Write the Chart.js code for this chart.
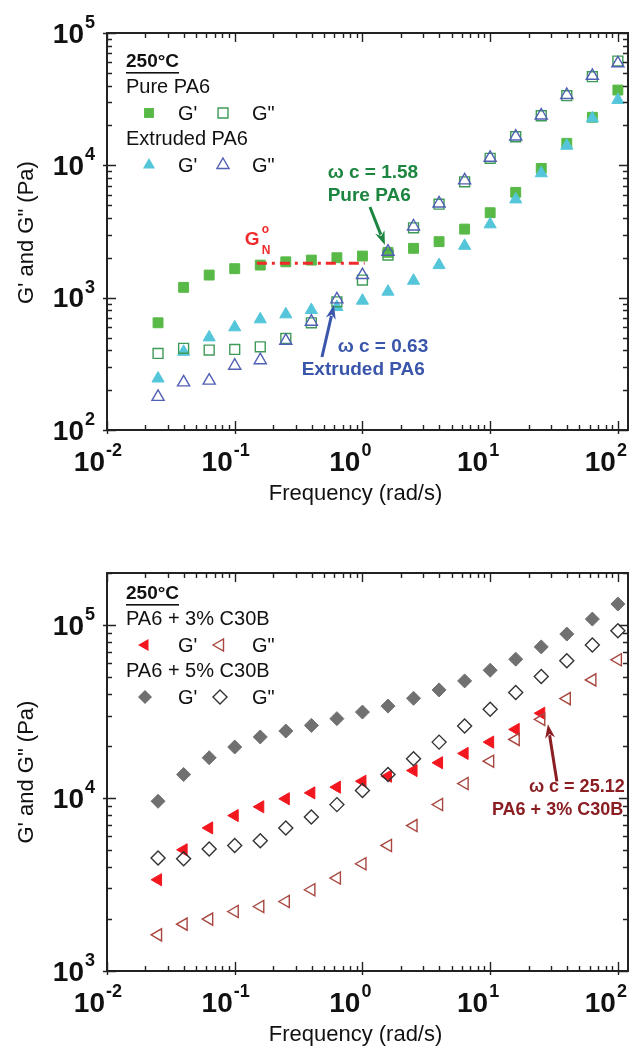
<!DOCTYPE html>
<html>
<head>
<meta charset="utf-8">
<script src="https://cdn.jsdelivr.net/npm/chart.js@4.4.1/dist/chart.umd.min.js"></script>
<style>
  html, body { margin: 0; padding: 0; background: #ffffff; }
  #wrap { position: relative; width: 640px; height: 1049px; overflow: hidden; }
  .panel { position: absolute; left: 0; width: 640px; }
  #top { top: 0; height: 520px; }
  #bottom { top: 520px; height: 529px; }
</style>
</head>
<body>
<div id="wrap">
  <div class="panel" id="top"><canvas id="cTop" width="640" height="520"></canvas></div>
  <div class="panel" id="bottom"><canvas id="cBottom" width="640" height="529"></canvas></div>
</div>
<script>
// Angular frequency (rad/s), five points per decade
const freq = [0.0251, 0.0398, 0.0631, 0.1, 0.1585, 0.2512, 0.3981, 0.631, 1, 1.585,
              2.512, 3.981, 6.31, 10, 15.85, 25.12, 39.81, 63.1, 100];

// Upper panel: neat PA6
const purePA6_Gp  = [646, 1197, 1482, 1656, 1763, 1866, 1923, 2003, 2063, 2200,
                     2360, 2650, 3297, 4385, 6250, 9480, 14660, 23060, 37060];
const purePA6_Gpp = [379, 414, 402, 406, 425, 492, 646, 931, 1358, 2100,
                     3370, 5090, 7510, 11300, 16440, 23700, 33600, 46800, 61400];
const extPA6_Gp   = [245, 390, 501, 597, 686, 748, 806, 850, 949, 1110,
                     1343, 1763, 2466, 3580, 5530, 8710, 14060, 22650, 31200];
const extPA6_Gpp  = [178, 229, 236, 306, 337, 472, 658, 971, 1482, 2225,
                     3450, 5150, 7700, 11400, 16500, 23800, 34000, 47500, 59000];

// Lower panel: PA6 / Cloisite 30B nanocomposites
const c30b3_Gp  = [3370, 5020, 6720, 7920, 8900, 9900, 10710, 11560, 12510, 13370,
                   14420, 16000, 18110, 21050, 24940, 30920];
const c30b3_Gpp = [1618, 1866, 1995, 2208, 2360, 2523, 2950, 3446, 4170, 5320,
                   6930, 9170, 12130, 16330, 21830, 28500, 37570, 48200, 63000];
const c30b5_Gp  = [9580, 13680, 17100, 19720, 22550, 24400, 26300, 28770, 31400, 34000,
                   37730, 42170, 47550, 54800, 63500, 74800, 88700, 108300, 132300];
const c30b5_Gpp = [4500, 4460, 5070, 5320, 5670, 6720, 7780, 9160, 11040, 13680,
                   16870, 21050, 26080, 32580, 40740, 50500, 62100, 76600, 92700];

// Plateau modulus level and its frequency span
const plateauGN = 1820;
const plateauSpan = [0.149, 1.04];

// Axis limits and decade labels
const xRange = [0.01, 120];
const yRangeTop = [100, 1e5];
const yRangeBottom = [1000, 2e5];
const xDecades = [-2, -1, 0, 1, 2];
const yDecadesTop = [2, 3, 4, 5];
const yDecadesBottom = [3, 4, 5];

const FONT = '"Liberation Sans", Arial, Helvetica, sans-serif';

function pts(xs, ys) { return ys.map((v, i) => ({ x: xs[i], y: v })); }

function series(label, data, style, fill, stroke, radius, rot, bw) {
  return {
    label, data: pts(freq, data), showLine: false,
    pointStyle: style, pointRadius: radius, pointHoverRadius: radius,
    pointRotation: rot || 0,
    backgroundColor: fill, borderColor: stroke, pointBorderWidth: bw
  };
}

// Marker drawing for the in-plot key (same geometry as Chart.js point styles)
function marker(ctx, style, cx, cy, r, fill, stroke, lw, rotDeg) {
  const rad = (rotDeg || 0) * Math.PI / 180;
  ctx.save();
  ctx.beginPath();
  if (style === 'rect') {
    const s = Math.SQRT1_2 * r;
    ctx.rect(cx - s, cy - s, 2 * s, 2 * s);
  } else if (style === 'rectRot') {
    ctx.moveTo(cx, cy - r); ctx.lineTo(cx + r, cy); ctx.lineTo(cx, cy + r); ctx.lineTo(cx - r, cy);
    ctx.closePath();
  } else if (style === 'triangle') {
    let a = rad;
    ctx.moveTo(cx + Math.sin(a) * r, cy - Math.cos(a) * r);
    a += 2 * Math.PI / 3;
    ctx.lineTo(cx + Math.sin(a) * r, cy - Math.cos(a) * r);
    a += 2 * Math.PI / 3;
    ctx.lineTo(cx + Math.sin(a) * r, cy - Math.cos(a) * r);
    ctx.closePath();
  }
  ctx.fillStyle = fill; ctx.fill();
  if (lw > 0) { ctx.lineWidth = lw; ctx.strokeStyle = stroke; ctx.stroke(); }
  ctx.restore();
}

function powLabel(ctx, exp, x, y, mode) {
  const base = '10', sup = String(exp).replace('-', '-');
  ctx.save();
  ctx.fillStyle = '#111';
  ctx.textBaseline = 'middle';
  ctx.font = 'bold 28px ' + FONT;
  const wb = ctx.measureText(base).width;
  ctx.font = 'bold 18px ' + FONT;
  const ws = ctx.measureText(sup).width;
  let bx;
  if (mode === 'y') bx = x - wb - ws;          // whole label ends at x
  else bx = x - wb - 2;                        // base ends at the tick
  ctx.font = 'bold 28px ' + FONT;
  ctx.textAlign = 'left';
  ctx.fillText(base, bx, y);
  ctx.font = 'bold 18px ' + FONT;
  ctx.fillText(sup, bx + wb + 1, y - 12);
  ctx.restore();
}

// Frame, inward log ticks, decade labels, axis titles, key and notes
function framePlugin(opts) {
  return {
    id: 'frame_' + opts.name,
    afterDatasetsDraw(chart) {
      const { ctx, chartArea: a, scales: { x, y } } = chart;
      ctx.save();
      ctx.strokeStyle = '#222';
      ctx.lineWidth = 2;
      ctx.strokeRect(a.left, a.top, a.right - a.left, a.bottom - a.top);

      ctx.lineWidth = 1.4;
      const inRange = (v, lo, hi) => v >= lo * 0.999 && v <= hi * 1.001;
      // x ticks
      for (let k = -3; k <= 3; k++) {
        for (let m = 1; m <= 9; m++) {
          const v = m * Math.pow(10, k);
          if (!inRange(v, x.min, x.max)) continue;
          const px = Math.round(x.getPixelForValue(v)) + 0.5;
          const major = m === 1, len = major ? 9 : 5;
          ctx.beginPath();
          ctx.moveTo(px, a.bottom + (major ? 4 : 0)); ctx.lineTo(px, a.bottom - len);
          ctx.moveTo(px, a.top); ctx.lineTo(px, a.top + len);
          ctx.stroke();
        }
      }
      // y ticks
      for (let k = 1; k <= 6; k++) {
        for (let m = 1; m <= 9; m++) {
          const v = m * Math.pow(10, k);
          if (!inRange(v, y.min, y.max)) continue;
          const py = Math.round(y.getPixelForValue(v)) + 0.5;
          const major = m === 1, len = major ? 9 : 5;
          ctx.beginPath();
          ctx.moveTo(a.left - (major ? 4 : 0), py); ctx.lineTo(a.left + len, py);
          ctx.moveTo(a.right, py); ctx.lineTo(a.right - len, py);
          ctx.stroke();
        }
      }
      ctx.restore();

      // decade labels
      xDecades.forEach(e => powLabel(ctx, e, x.getPixelForValue(Math.pow(10, e)), a.bottom + 33, 'x'));
      opts.yDecades.forEach(e => powLabel(ctx, e, a.left - 13, y.getPixelForValue(Math.pow(10, e)) + 2, 'y'));

      // axis titles
      ctx.save();
      ctx.fillStyle = '#111';
      ctx.font = '22px ' + FONT;
      ctx.textAlign = 'center';
      ctx.textBaseline = 'middle';
      ctx.fillText('Frequency (rad/s)', (a.left + a.right) / 2 - 12, a.bottom + 64);
      ctx.translate(27, (a.top + a.bottom) / 2 + opts.yTitleShift);
      ctx.rotate(-Math.PI / 2);
      ctx.fillText('G\' and G" (Pa)', 0, 0);
      ctx.restore();

      // key
      ctx.save();
      ctx.fillStyle = '#111';
      ctx.textBaseline = 'middle';
      ctx.textAlign = 'left';
      const k0x = a.left + 19, k0y = a.top + opts.keyTop;
      ctx.font = 'bold 19px ' + FONT;
      ctx.fillText('250\u00B0C', k0x, k0y);
      const tw = ctx.measureText('250\u00B0C').width;
      ctx.fillRect(k0x, k0y + 10, tw, 1.6);
      opts.groups.forEach((g, gi) => {
        const gy = k0y + 25 + gi * 52;
        ctx.font = '20px ' + FONT;
        ctx.fillStyle = '#111';
        ctx.fillText(g.name, k0x, gy);
        const ry = gy + 26;
        marker(ctx, g.m1.style, a.left + g.mx[0], ry, g.m1.r, g.m1.fill, g.m1.stroke, g.m1.bw, g.m1.rot);
        marker(ctx, g.m2.style, a.left + g.mx[1], ry, g.m2.r, g.m2.fill, g.m2.stroke, g.m2.bw, g.m2.rot);
        ctx.fillStyle = '#111';
        ctx.font = '20px ' + FONT;
        ctx.fillText('G\'', a.left + 71, ry + 1);
        ctx.fillText('G"', a.left + 145, ry + 1);
      });
      ctx.restore();

      // notes with arrows, anchored in data coordinates
      (opts.notes || []).forEach(n => {
        ctx.save();
        ctx.fillStyle = n.color;
        ctx.textBaseline = 'middle';
        ctx.textAlign = n.align;
        n.lines.forEach(l => {
          ctx.font = 'bold ' + l.size + 'px ' + FONT;
          ctx.fillText(l.text, x.getPixelForValue(l.x), y.getPixelForValue(l.y));
        });
        if (n.arrow) {
          const x1 = x.getPixelForValue(n.arrow.from[0]), y1 = y.getPixelForValue(n.arrow.from[1]);
          const x2 = x.getPixelForValue(n.arrow.to[0]), y2 = y.getPixelForValue(n.arrow.to[1]);
          const ang = Math.atan2(y2 - y1, x2 - x1);
          const hl = 14, hw = 5;
          ctx.strokeStyle = n.color;
          ctx.lineWidth = 3;
          ctx.beginPath();
          ctx.moveTo(x1, y1);
          ctx.lineTo(x2 - Math.cos(ang) * hl * 0.8, y2 - Math.sin(ang) * hl * 0.8);
          ctx.stroke();
          ctx.beginPath();
          ctx.moveTo(x2, y2);
          ctx.lineTo(x2 - Math.cos(ang) * hl - Math.sin(ang) * hw, y2 - Math.sin(ang) * hl + Math.cos(ang) * hw);
          ctx.lineTo(x2 - Math.cos(ang) * hl * 0.7, y2 - Math.sin(ang) * hl * 0.7);
          ctx.lineTo(x2 - Math.cos(ang) * hl + Math.sin(ang) * hw, y2 - Math.sin(ang) * hl - Math.cos(ang) * hw);
          ctx.closePath();
          ctx.fill();
        }
        ctx.restore();
      });

      // plateau modulus label
      if (opts.gn) {
        const gx = x.getPixelForValue(opts.gn.x), gy = y.getPixelForValue(opts.gn.y);
        ctx.save();
        ctx.fillStyle = '#f02a2a';
        ctx.textBaseline = 'middle';
        ctx.textAlign = 'left';
        ctx.font = 'bold 19px ' + FONT;
        ctx.fillText('G', gx, gy);
        ctx.font = 'bold 12px ' + FONT;
        ctx.fillText('o', gx + 17, gy - 10);
        ctx.fillText('N', gx + 17, gy + 11);
        ctx.restore();
      }
    }
  };
}

function baseOptions(yr, pad) {
  return {
    responsive: false,
    animation: false,
    events: [],
    layout: { padding: pad },
    plugins: { legend: { display: false }, tooltip: { enabled: false } },
    scales: {
      x: { type: 'logarithmic', min: xRange[0], max: xRange[1], display: false },
      y: { type: 'logarithmic', min: yr[0], max: yr[1], display: false }
    }
  };
}

// Colours
const cGreen = '#58b947', cGreenOpen = '#3f9a57', cCyan = '#55c6da', cBlue = '#5160b4';
const cRed = '#f2161f', cRedOpen = '#a8473f', cGrey = '#707070', cDark = '#333333';

new Chart(document.getElementById('cTop'), {
  type: 'scatter',
  data: {
    datasets: [
      {
        label: 'G_N plateau', data: [{ x: plateauSpan[0], y: plateauGN }, { x: plateauSpan[1], y: plateauGN }],
        showLine: true, borderColor: '#f02a2a', borderWidth: 3, borderDash: [10, 5, 3, 5],
        pointRadius: 0, backgroundColor: '#f02a2a'
      },
      series('Extruded PA6 G"', extPA6_Gpp, 'triangle', 'rgba(0,0,0,0)', cBlue, 7, 0, 1.4),
      series('Pure PA6 G"', purePA6_Gpp, 'rect', 'rgba(0,0,0,0)', cGreenOpen, 7, 0, 1.4),
      series('Extruded PA6 G\'', extPA6_Gp, 'triangle', cCyan, cCyan, 7, 0, 1),
      series('Pure PA6 G\'', purePA6_Gp, 'rect', cGreen, cGreen, 7, 0, 1)
    ]
  },
  options: baseOptions(yRangeTop, { left: 107, right: 12, top: 33, bottom: 90 }),
  plugins: [framePlugin({
    name: 'top', yDecades: yDecadesTop, keyTop: 29, yTitleShift: 1,
    groups: [
      { name: 'Pure PA6', mx: [42, 116],
        m1: { style: 'rect', r: 7, fill: cGreen, stroke: cGreen, bw: 0 },
        m2: { style: 'rect', r: 7, fill: 'rgba(0,0,0,0)', stroke: cGreenOpen, bw: 1.4 } },
      { name: 'Extruded PA6', mx: [42, 116],
        m1: { style: 'triangle', r: 7, fill: cCyan, stroke: cCyan, bw: 0 },
        m2: { style: 'triangle', r: 7, fill: 'rgba(0,0,0,0)', stroke: cBlue, bw: 1.4 } }
    ],
    gn: { x: 0.12, y: 2720 },
    notes: [
      { color: '#1c8540', align: 'left',
        lines: [{ text: '\u03C9 c = 1.58', x: 0.534, y: 8750, size: 19 },
                { text: 'Pure PA6', x: 0.534, y: 5860, size: 19 }],
        arrow: { from: [1.145, 4840], to: [1.5, 2500] } },
      { color: '#3a56aa', align: 'left',
        lines: [{ text: '\u03C9 c = 0.63', x: 0.64, y: 424, size: 19 },
                { text: 'Extruded PA6', x: 0.3345, y: 284, size: 19 }],
        arrow: { from: [0.482, 356], to: [0.598, 880] } }
    ]
  })]
});

new Chart(document.getElementById('cBottom'), {
  type: 'scatter',
  data: {
    datasets: [
      series('PA6 + 5% C30B G"', c30b5_Gpp, 'rectRot', 'rgba(0,0,0,0)', cDark, 7, 0, 1.4),
      series('PA6 + 3% C30B G"', c30b3_Gpp, 'triangle', 'rgba(0,0,0,0)', cRedOpen, 7, -90, 1.4),
      {
        label: 'PA6 + 3% C30B G\'', data: pts(freq, c30b3_Gp), showLine: false,
        pointStyle: 'triangle', pointRotation: -90, pointRadius: 7, pointHoverRadius: 7,
        backgroundColor: cRed, borderColor: cRed, pointBorderWidth: 1
      },
      series('PA6 + 5% C30B G\'', c30b5_Gp, 'rectRot', cGrey, cGrey, 7, 0, 1)
    ]
  },
  options: baseOptions(yRangeBottom, { left: 107, right: 12, top: 53, bottom: 78 }),
  plugins: [framePlugin({
    name: 'bottom', yDecades: yDecadesBottom, keyTop: 21, yTitleShift: 0,
    groups: [
      { name: 'PA6 + 3% C30B', mx: [38, 113],
        m1: { style: 'triangle', r: 7, fill: cRed, stroke: cRed, bw: 0, rot: -90 },
        m2: { style: 'triangle', r: 7, fill: 'rgba(0,0,0,0)', stroke: cRedOpen, bw: 1.4, rot: -90 } },
      { name: 'PA6 + 5% C30B', mx: [38, 113],
        m1: { style: 'rectRot', r: 7, fill: cGrey, stroke: cGrey, bw: 0 },
        m2: { style: 'rectRot', r: 7, fill: 'rgba(0,0,0,0)', stroke: cDark, bw: 1.4 } }
    ],
    notes: [
      { color: '#8a1e22', align: 'right',
        lines: [{ text: '\u03C9 c = 25.12', x: 113, y: 11510, size: 18 },
                { text: 'PA6 + 3% C30B', x: 110, y: 8570, size: 18 }],
        arrow: { from: [33.3, 12470], to: [28.3, 26700] } }
    ]
  })]
});
</script>
</body>
</html>
